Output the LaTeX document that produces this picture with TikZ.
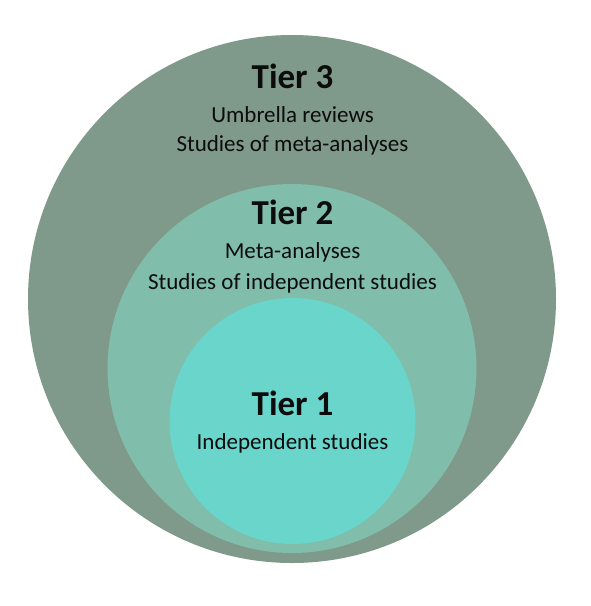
\documentclass[tikz,border=0pt]{standalone}
\usepackage{fontspec}
\setmainfont{Carlito}
\definecolor{cthree}{RGB}{127,153,138}
\definecolor{ctwo}{RGB}{128,189,170}
\definecolor{cone}{RGB}{106,213,203}
\definecolor{ink}{RGB}{12,12,12}
\begin{document}
\begin{tikzpicture}[x=1pt,y=-1pt,
  ring/.style={circle, draw=none, inner sep=0pt},
  tiertitle/.style={anchor=base, text=ink, inner sep=0pt, font=\fontsize{35}{40}\selectfont\bfseries},
  tiertext/.style={anchor=base, text=ink, inner sep=0pt, font=\fontsize{23}{27}\selectfont}]
\useasboundingbox (0,0) rectangle (591,606);
\node[ring, fill=cthree, minimum size=528pt] (c3) at (292,299) {};
\node[ring, fill=ctwo, minimum size=369pt] (c2) at (292,368.5) {};
\node[ring, fill=cone, minimum size=246pt] (c1) at (292.5,421) {};
\node[tiertitle] (t3) at (292.5,88) {Tier 3};
\node[tiertext] (t3a) at (292.5,122.7) {Umbrella reviews};
\node[tiertext] (t3b) at (292.5,151.7) {Studies of meta-analyses};
\node[tiertitle] (t2) at (292.5,224) {Tier 2};
\node[tiertext] (t2a) at (292.5,258) {Meta-analyses};
\node[tiertext] (t2b) at (292.5,289.3) {Studies of independent studies};
\node[tiertitle] (t1) at (292.5,415) {Tier 1};
\node[tiertext] (t1a) at (292.5,449) {Independent studies};
\end{tikzpicture}
\end{document}
